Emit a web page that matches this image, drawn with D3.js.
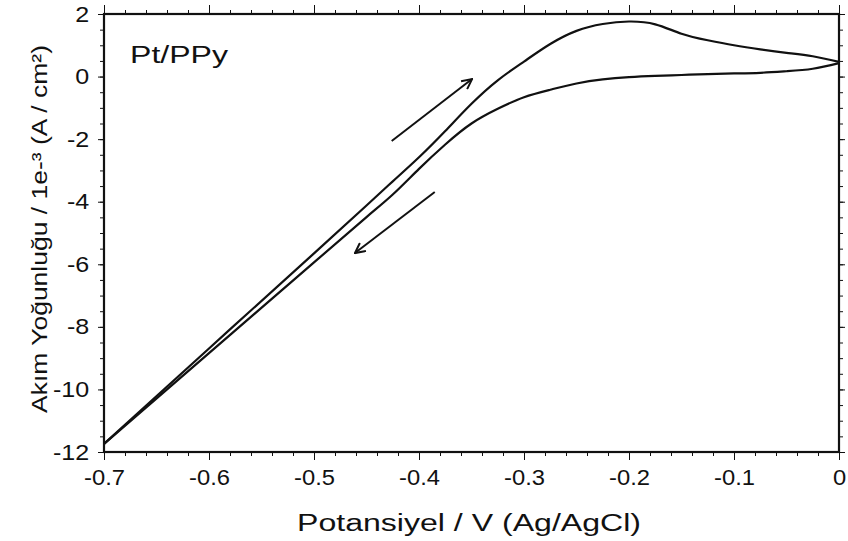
<!DOCTYPE html>
<html>
<head>
<meta charset="utf-8">
<script src="https://cdn.jsdelivr.net/npm/d3@7"></script>
<style>
  body { margin: 0; background: #fff; }
  svg { display: block; font-family: "Liberation Sans", Arial, sans-serif; }
  .tick text { fill: #111; }
</style>
</head>
<body>
<div id="chart"></div>
<script>
// potential steps (V) shared by both branches
var potential = [-0.7, -0.6, -0.5, -0.45, -0.425, -0.4, -0.375, -0.35, -0.325, -0.3, -0.275, -0.25, -0.225, -0.2, -0.175, -0.15, -0.125, -0.1, -0.075, -0.05, -0.025, 0];
// forward scan (anodic, -0.7 -> 0 V), 1e-3 A/cm2
var forwardI = [-11.74, -8.69, -5.65, -4.12, -3.35, -2.58, -1.74, -0.87, -0.12, 0.48, 1.04, 1.46, 1.68, 1.76, 1.67, 1.37, 1.16, 1.0, 0.87, 0.76, 0.65, 0.47];
// reverse scan (cathodic, 0 -> -0.7 V), listed from -0.7 up
var reverseI = [-11.74, -8.84, -5.94, -4.49, -3.77, -2.95, -2.17, -1.5, -1.03, -0.66, -0.42, -0.22, -0.09, -0.02, 0.02, 0.05, 0.08, 0.1, 0.12, 0.17, 0.25, 0.43];

var xTicks = [-0.7, -0.6, -0.5, -0.4, -0.3, -0.2, -0.1, 0];
var yTicks = [2, 0, -2, -4, -6, -8, -10, -12];

// scan direction arrows [E1, I1, E2, I2]
var arrows = [
  [-0.426, -2.06, -0.3495, -0.08],
  [-0.385, -3.69, -0.461, -5.64]
];

var margin = {top: 14, right: 9, bottom: 89, left: 104},
    width = 848 - margin.left - margin.right,
    height = 541 - margin.top - margin.bottom;

var x = d3.scaleLinear().domain([-0.7, 0]).range([0, width]);
var y = d3.scaleLinear().domain([-12, 2]).range([height, 0]);

var svg = d3.select("#chart").append("svg")
    .attr("width", 848)
    .attr("height", 541)
  .append("g")
    .attr("transform", "translate(" + margin.left + "," + margin.top + ")");

var xMinor = d3.range(-0.7, 0.0001, 0.02);
var yMinor = d3.range(-12, 2.0001, 0.5);

// minor ticks
function minor(axis, ticks, tr) {
  var g = svg.append("g").attr("transform", tr)
    .call(axis.tickValues(ticks).tickSize(4).tickFormat(""));
  g.select(".domain").remove();
  g.selectAll("line").attr("stroke", "#333").attr("stroke-width", 1);
}
minor(d3.axisBottom(x), xMinor, "translate(0," + height + ")");
minor(d3.axisTop(x), xMinor, "translate(0,0)");
minor(d3.axisLeft(y), yMinor, "translate(0,0)");
minor(d3.axisRight(y), yMinor, "translate(" + width + ",0)");

// major ticks
var gx = svg.append("g")
    .attr("transform", "translate(0," + height + ")")
    .call(d3.axisBottom(x).tickValues(xTicks).tickSize(8).tickPadding(9)
      .tickFormat(function(d) { return d === 0 ? "0" : String(+d.toFixed(1)); }));
gx.selectAll("text").style("font-size", "22px").attr("transform", "scale(1.08,1)");

svg.append("g")
    .call(d3.axisTop(x).tickValues(xTicks).tickSize(9).tickFormat(""));

var gy = svg.append("g")
    .call(d3.axisLeft(y).tickValues(yTicks).tickSize(6).tickPadding(7)
      .tickFormat(function(d) { return String(d); }));
gy.selectAll("text").style("font-size", "22px").attr("transform", "scale(1.14,1)");

svg.append("g")
    .attr("transform", "translate(" + width + ",0)")
    .call(d3.axisRight(y).tickValues(yTicks).tickSize(6).tickFormat(""));

svg.selectAll(".domain").remove();
svg.selectAll(".tick line").attr("stroke", "#111");

// frame
svg.append("rect")
    .attr("x", 0).attr("y", 0)
    .attr("width", width).attr("height", height)
    .attr("fill", "none")
    .attr("stroke", "#111")
    .attr("stroke-width", 2.2);

// the voltammogram, two branches
var line = d3.line()
    .x(function(d) { return x(d[0]); })
    .y(function(d) { return y(d[1]); })
    .curve(d3.curveNatural);

var branches = [
  potential.map(function(e, i) { return [e, forwardI[i]]; }),
  potential.map(function(e, i) { return [e, reverseI[i]]; })
];

svg.selectAll(".scan")
    .data(branches)
  .enter().append("path")
    .attr("class", "scan")
    .attr("fill", "none")
    .attr("stroke", "#111")
    .attr("stroke-width", 2.2)
    .attr("stroke-linejoin", "round")
    .attr("d", line);

// arrows
var defs = d3.select("svg").append("defs");
defs.append("marker")
    .attr("id", "head")
    .attr("viewBox", "0 0 12 12")
    .attr("refX", 11).attr("refY", 6)
    .attr("markerWidth", 12).attr("markerHeight", 12)
    .attr("markerUnits", "userSpaceOnUse")
    .attr("orient", "auto")
  .append("path")
    .attr("d", "M1,1 L11,6 L1,11")
    .attr("fill", "none")
    .attr("stroke", "#111")
    .attr("stroke-width", 2);

svg.selectAll(".arrow")
    .data(arrows)
  .enter().append("line")
    .attr("class", "arrow")
    .attr("x1", function(d) { return x(d[0]); })
    .attr("y1", function(d) { return y(d[1]); })
    .attr("x2", function(d) { return x(d[2]); })
    .attr("y2", function(d) { return y(d[3]); })
    .attr("stroke", "#111")
    .attr("stroke-width", 2)
    .attr("marker-end", "url(#head)");

// label
svg.append("text")
    .attr("x", 26)
    .attr("y", 49)
    .style("font-size", "23px")
    .attr("textLength", 98)
    .attr("lengthAdjust", "spacingAndGlyphs")
    .attr("fill", "#111")
    .text("Pt/PPy");

// axis titles
svg.append("text")
    .attr("x", 365)
    .attr("y", height + 79)
    .attr("text-anchor", "middle")
    .style("font-size", "23px")
    .attr("textLength", 344)
    .attr("lengthAdjust", "spacingAndGlyphs")
    .attr("fill", "#111")
    .text("Potansiyel / V (Ag/AgCl)");

svg.append("text")
    .attr("transform", "translate(-57," + (229 - margin.top) + ") rotate(-90)")
    .attr("text-anchor", "middle")
    .style("font-size", "22px")
    .attr("textLength", 368)
    .attr("lengthAdjust", "spacingAndGlyphs")
    .attr("fill", "#111")
    .text("Akım Yoğunluğu / 1e-³ (A / cm²)");
</script>
</body>
</html>
